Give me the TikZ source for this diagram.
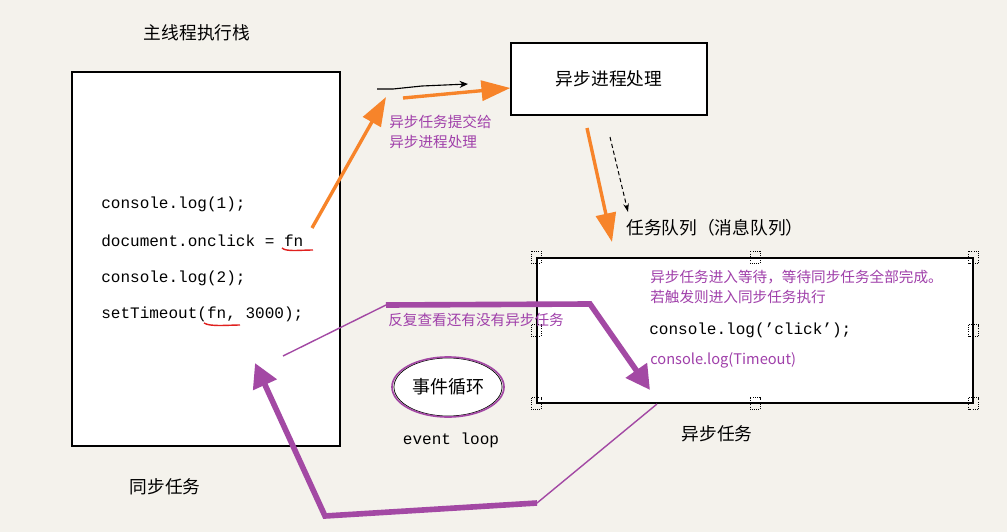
\documentclass[tikz,border=0pt]{standalone}
\usepackage{fontspec}
\setmainfont{Noto Sans CJK SC}
\setmonofont{Liberation Mono}
\usetikzlibrary{arrows.meta,shapes.geometric}
\definecolor{bgc}{HTML}{F4F2EC}
\definecolor{orangec}{HTML}{F7842A}
\definecolor{purplec}{HTML}{A349A4}
\definecolor{purpletext}{HTML}{A040AA}
\definecolor{redline}{HTML}{E0201E}
\tikzset{
  box/.style={draw, line width=1pt, fill=white, inner sep=0pt},
  code/.style={anchor=west, inner sep=0pt, font=\ttfamily\fontsize{11.4}{13}\selectfont},
  title/.style={inner sep=0pt, font=\fontsize{12.6}{15}\selectfont},
  note/.style={inner sep=0pt, anchor=west, align=left, text=purpletext, font=\fontsize{10.4}{14.2}\selectfont},
  orangearrow/.style={draw=orangec, line width=2.4pt, -{Triangle[length=0.72cm,width=0.5cm]}},
  purplearrow/.style={draw=purplec, line width=4pt, -{Triangle[length=0.6cm,width=0.62cm]}},
  purplethin/.style={draw=purplec, line width=1pt},
  handle/.style={densely dotted, line width=0.6pt},
}
\begin{document}
\begin{tikzpicture}[x=0.025cm,y=-0.025cm]
\fill[bgc] (0,0) rectangle (1007,532);
\useasboundingbox (0,0) rectangle (1007,532);
% main thread stack
\node[title] (stacktitle) at (197,33) {主线程执行栈};
\node[box, minimum width=6.7cm, minimum height=9.35cm] (stack) at (206,259) {};
\node[code] (log1) at (101,204) {console.log(1);};
\node[code] (onclick) at (101,241) {document.onclick = fn};
\node[code] (log2) at (101,278) {console.log(2);};
\node[code] (timeout) at (101,314) {setTimeout(fn, 3000);};
\draw[redline, line width=1pt] (282,248) .. controls (286,252) and (300,250) .. (313,250);
\draw[redline, line width=1pt] (204,323) .. controls (210,327) and (228,325) .. (240,325);
\node[title] (sync) at (165,487) {同步任务};
% async processing
\node[box, minimum width=4.9cm, minimum height=1.8cm] (async) at (609,79) {};
\node[title] at (async.center) {异步进程处理};
\coordinate (fnA) at (312,228);
\coordinate (thinA) at (377,89); \coordinate (thinB) at (468,84);
\coordinate (handA) at (403,98);
\draw[line width=0.8pt, -{Stealth[length=6pt,width=5pt]}] (thinA) -- (393,89) -- (422,86) -- (thinB);
\draw[orangearrow] (fnA) -- (386,97);
\draw[orangearrow] (handA) -- (async.west |- 0,88);
\node[note] (submit) at (389,132) {异步任务提交给\\异步进程处理};
% task queue
\coordinate (dashA) at (610,137);
\draw[orangearrow] (587,128) -- (612,242);
\draw[line width=0.7pt, densely dashed, -{Stealth[length=6pt,width=4pt]}] (dashA) -- (628,212);
\node[title, anchor=west] (queuetitle) at (626,228) {任务队列（消息队列）};
\node[box, minimum width=10.9cm, minimum height=3.625cm] (queue) at (755,330.5) {};
\foreach \a in {north west,north,north east,west,east,south west,south,south east}
  \draw[handle, shift={(queue.\a)}] (-5,-6) rectangle (5,6);
\node[note] (wait) at (650,287) {异步任务进入等待，等待同步任务全部完成。\\若触发则进入同步任务执行};
\node[code] (click) at (649,330) {console.log(’click’);};
\node[note] (tlog) at (650,360) {console.log(Timeout)};
\node[title] (asynctask) at (717,434) {异步任务};
% event loop
\node[ellipse, draw, line width=0.5pt, fill=white, minimum width=2.7cm, minimum height=1.45cm, inner sep=0pt, font=\fontsize{12.8}{15}\selectfont] (loop) at (448,387) {事件循环};
\draw[purplec, line width=1.2pt] (loop.center) ellipse (56 and 30);
\node[code, anchor=center] (looptext) at (451,440) {event loop};
\node[note] (check) at (388,320) {反复查看还有没有异步任务};
\coordinate (loopA) at (283,356); \coordinate (loopB) at (386,305);
\coordinate (loopC) at (657,404); \coordinate (loopD) at (537,503);
\draw[purplethin] (loopA) -- (loopB);
\draw[purplearrow] (loopB) -- (590,304) -- (650,390);
\draw[purplethin] (loopC) -- (loopD);
\draw[purplearrow] (loopD) -- (325,516) -- (255,363);
\end{tikzpicture}
\end{document}
